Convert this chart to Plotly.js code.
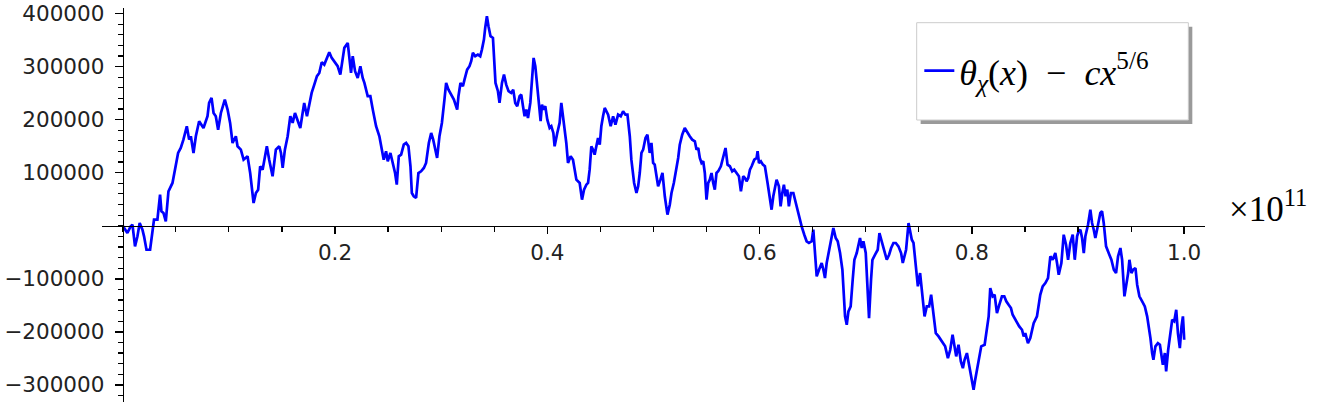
<!DOCTYPE html>
<html>
<head>
<meta charset="utf-8">
<script src="https://cdn.plot.ly/plotly-3.0.1.min.js"></script>
<style>
  html, body { margin: 0; padding: 0; background: #fff; }
  #chart { width: 1320px; height: 402px; }
</style>
</head>
<body>
<div id="chart"></div>
<script>
// x is given in units of 1e11 (the axis shows the x10^11 factor)
var xScaled = [
  0, 0.0044, 0.0075, 0.0092, 0.0116, 0.0139, 0.0160, 0.0186, 0.0201, 0.0224,
  0.0258, 0.0280, 0.0295, 0.0327, 0.0352, 0.0365, 0.0384, 0.0406, 0.0431, 0.0469,
  0.0500, 0.0522, 0.0547, 0.0572, 0.0604, 0.0626, 0.0642, 0.0667, 0.0689, 0.0720,
  0.0761, 0.0799, 0.0814, 0.0837, 0.0856, 0.0877, 0.0899, 0.0925, 0.0962, 0.0988,
  0.1012, 0.1035, 0.1066, 0.1082, 0.1113, 0.1139, 0.1176, 0.1201, 0.1233, 0.1255,
  0.1276, 0.1295, 0.1318, 0.1358, 0.1380, 0.1412, 0.1443, 0.1475, 0.1491, 0.1507,
  0.1528, 0.1554, 0.1579, 0.1601, 0.1623, 0.1648, 0.1673, 0.1695, 0.1710, 0.1736,
  0.1758, 0.1780, 0.1805, 0.1830, 0.1852, 0.1875, 0.1899, 0.1931, 0.1946, 0.1969,
  0.1994, 0.2025,
  0.2050, 0.2073, 0.2088, 0.2120, 0.2135, 0.2151, 0.2167, 0.2189, 0.2214, 0.2239,
  0.2261, 0.2277, 0.2308, 0.2333, 0.2356, 0.2387, 0.2418, 0.2441, 0.2459, 0.2481,
  0.2497, 0.2522, 0.2544, 0.2566, 0.2582, 0.2601, 0.2623, 0.2648, 0.2670, 0.2692,
  0.2711, 0.2724, 0.2742, 0.2764, 0.2786, 0.2811, 0.2837, 0.2858, 0.2884, 0.2906,
  0.2925, 0.2943, 0.2962, 0.2984, 0.3007, 0.3031, 0.3047, 0.3069, 0.3094, 0.3120,
  0.3151, 0.3163, 0.3182, 0.3205, 0.3220, 0.3245, 0.3267, 0.3283, 0.3299, 0.3321,
  0.3346, 0.3368, 0.3384, 0.3403, 0.3415, 0.3431, 0.3446, 0.3465, 0.3488, 0.3503,
  0.3512, 0.3535, 0.3550, 0.3573, 0.3592, 0.3613, 0.3635, 0.3660, 0.3679, 0.3698,
  0.3717, 0.3739, 0.3755, 0.3771, 0.3786, 0.3802, 0.3818, 0.3840, 0.3861, 0.3871,
  0.3887, 0.3906, 0.3927, 0.3937, 0.3950, 0.3965, 0.3981, 0.4000, 0.4022, 0.4038,
  0.4057, 0.4069, 0.4094, 0.4116, 0.4132,
  0.4158, 0.4179, 0.4195, 0.4220, 0.4242, 0.4258, 0.4274, 0.4305, 0.4327, 0.4346,
  0.4368, 0.4384, 0.4399, 0.4415, 0.4431, 0.4446, 0.4462, 0.4478, 0.4494, 0.4509,
  0.4525, 0.4541, 0.4573, 0.4597, 0.4620, 0.4642, 0.4667, 0.4692, 0.4714, 0.4736,
  0.4755, 0.4777, 0.4792, 0.4818, 0.4840, 0.4856, 0.4871, 0.4887, 0.4903, 0.4925,
  0.4943, 0.4965, 0.4981, 0.4997, 0.5012, 0.5028, 0.5044, 0.5066, 0.5085, 0.5107,
  0.5132, 0.5154, 0.5170, 0.5192, 0.5217, 0.5233, 0.5248, 0.5271, 0.5295, 0.5321,
  0.5342, 0.5365, 0.5390, 0.5406, 0.5422, 0.5437, 0.5453, 0.5469, 0.5484, 0.5500,
  0.5516, 0.5531, 0.5547, 0.5563, 0.5578, 0.5594, 0.5610, 0.5635, 0.5657, 0.5679,
  0.5698, 0.5720, 0.5742, 0.5761, 0.5783, 0.5805, 0.5824, 0.5846, 0.5862, 0.5877,
  0.5893, 0.5909, 0.5925, 0.5950, 0.5972, 0.5981, 0.5994, 0.6012, 0.6031, 0.6050,
  0.6075, 0.6097, 0.6113, 0.6129, 0.6144, 0.6160, 0.6182, 0.6198, 0.6214, 0.6229,
  0.6245, 0.6261, 0.6276, 0.6295, 0.6318, 0.6333, 0.6349, 0.6371,
  0.6396, 0.6421, 0.6443, 0.6465, 0.6491, 0.6506, 0.6522, 0.6538, 0.6560, 0.6585,
  0.6601, 0.6616, 0.6632, 0.6654, 0.6679, 0.6695, 0.6717, 0.6736, 0.6758, 0.6780,
  0.6805, 0.6821, 0.6837, 0.6858, 0.6877, 0.6893, 0.6915, 0.6931, 0.6946, 0.6962,
  0.6978, 0.7000, 0.7019, 0.7031, 0.7050, 0.7063, 0.7088, 0.7113, 0.7129, 0.7151,
  0.7176, 0.7198, 0.7220, 0.7239, 0.7261, 0.7283, 0.7308, 0.7333, 0.7349, 0.7365,
  0.7380, 0.7403, 0.7418, 0.7434, 0.7450, 0.7472, 0.7491, 0.7512, 0.7535, 0.7554,
  0.7575, 0.7597, 0.7616, 0.7638, 0.7660, 0.7686, 0.7717, 0.7748, 0.7774, 0.7796,
  0.7818, 0.7837, 0.7852, 0.7874, 0.7896, 0.7915, 0.7931, 0.7953, 0.7975, 0.7994,
  0.8016, 0.8031, 0.8050, 0.8069, 0.8088, 0.8120, 0.8142, 0.8158, 0.8173, 0.8195,
  0.8214, 0.8236, 0.8258, 0.8283, 0.8305, 0.8324, 0.8346, 0.8368, 0.8384, 0.8403,
  0.8425, 0.8446, 0.8472, 0.8488, 0.8503, 0.8528, 0.8550,
  0.8560, 0.8582, 0.8613, 0.8629, 0.8644, 0.8667, 0.8692, 0.8717, 0.8739, 0.8761,
  0.8786, 0.8802, 0.8818, 0.8843, 0.8865, 0.8887, 0.8906, 0.8927, 0.8950, 0.8969,
  0.8991, 0.9006, 0.9022, 0.9038, 0.9054, 0.9069, 0.9094, 0.9116, 0.9132, 0.9148,
  0.9163, 0.9179, 0.9195, 0.9210, 0.9226, 0.9242, 0.9264, 0.9283, 0.9295, 0.9314,
  0.9337, 0.9358, 0.9377, 0.9399, 0.9415, 0.9437, 0.9453, 0.9472, 0.9484, 0.9503,
  0.9519, 0.9541, 0.9557, 0.9578, 0.9604, 0.9629, 0.9651, 0.9667, 0.9682, 0.9698,
  0.9710, 0.9729, 0.9752, 0.9771, 0.9786, 0.9799, 0.9818, 0.9830, 0.9849, 0.9871,
  0.9887, 0.9906, 0.9925, 0.9941, 0.9959, 0.9975, 0.9988, 0.9997, 1.0
];

// theta_chi(x) - c x^(5/6)
var diffVals = [
  0, -13800, -1100, 1900, -38900, -20000, 5100, -7500, -20000, -45300,
  -45300, -13800, 11300, 11300, 58500, 27200, 24000, 8300, 64900, 80600,
  118300, 137200, 146600, 162300, 187500, 162300, 168700, 137200, 168700, 197000,
  184300, 206400, 231500, 241000, 212600, 206400, 181100, 212600, 237700, 218900,
  193800, 156000, 168700, 149800, 143400, 124500, 130900, 99400, 42800, 61700,
  67900, 112100, 105700, 149800, 124500, 93200, 143400, 149800, 137200, 108900,
  143400, 168700, 206400, 193800, 212600, 200000, 184300, 212600, 231500, 206400,
  231500, 250400, 266000, 281900, 288100, 308300, 303800, 319600, 327200, 316400,
  310200, 300800,
  284900, 313200, 335300, 344700, 316400, 288100, 319600, 291300, 278700, 300800,
  278700, 269200, 244200, 244200, 218900, 187500, 168700, 143400, 124500, 140400,
  121500, 137200, 118300, 99400, 77400, 130900, 134000, 152800, 156000, 149800,
  112100, 61700, 55500, 52300, 99400, 102600, 108900, 118300, 156000, 174900,
  162300, 143400, 127700, 168700, 193800, 237700, 269200, 256600, 247200, 237700,
  218900, 244200, 269200, 263000, 275500, 294300, 300800, 310200, 325900, 319600,
  322600, 319600, 332100, 350900, 373000, 395100, 376200, 357400, 354200, 307000,
  269200, 253600, 231500, 269200, 284900, 266000, 253600, 250400, 256600, 231500,
  225300, 244200, 247200, 225300, 206400, 218900, 203200, 231500, 294300, 316400,
  300800, 256600, 206400, 197000, 228300, 218900, 225300, 200000, 184300, 187500,
  174900, 149800, 174900, 193800, 231500,
  193800, 156000, 118300, 130900, 124500, 105700, 86800, 80600, 49100, 67900,
  77400, 80600, 105700, 149800, 143400, 134000, 152800, 165500, 152800, 187500,
  206400, 222100, 209400, 187500, 206400, 190600, 209400, 206400, 215800, 209400,
  209400, 168700, 124500, 80600, 61700, 74300, 99400, 137200, 143400, 165500,
  171700, 137200, 156000, 118300, 115100, 93200, 74300, 86800, 99400, 55500,
  20800, 39600, 61700, 80600, 105700, 127700, 152800, 171700, 184300, 174900,
  168700, 162300, 159200, 143400, 146600, 127700, 118300, 121500, 99400, 49100,
  80600, 86800, 99400, 80600, 67900, 99400, 102600, 112100, 127700, 146600,
  115100, 112100, 102600, 105700, 99400, 93200, 64900, 93200, 90000, 83800,
  90000, 105700, 112100, 124500, 127700, 140400, 118300, 121500, 115100, 112100,
  80600, 49100, 30200, 55500, 74300, 86800, 74300, 36600, 61700, 77400,
  55500, 67900, 36600, 61700, 61700, 49100, 36600, 17700,
  -1100, -17000, -29400, -32600, -29400, -7500, -51500, -95500, -83000, -70400,
  -83000, -98700, -70400, -45300, -20000, -4300, -23200, -29400, -51500, -83000,
  -170900, -186800, -161500, -152100, -101900, -64200, -51500, -32600, -23200, -42100,
  -29400, -51500, -133200, -174200, -101900, -64200, -54700, -45300, -13800, -29400,
  -51500, -64200, -54700, -42100, -32600, -32600, -38900, -51500, -70400, -54700,
  -45300, 5100, -13800, -26400, -32600, -76600, -114300, -89200, -133200, -170900,
  -152100, -152100, -130200, -170900, -202500, -208700, -218100, -227500, -249600, -234000,
  -205700, -230800, -246400, -224500, -255900, -268500, -252800, -240200, -265300, -281100,
  -309400, -290600, -271700, -252800, -227500, -224500, -196200, -170900, -117500, -133200,
  -130200, -164700, -149100, -133200, -133200, -142600, -149100, -155300, -167900, -174200,
  -183600, -189800, -196200, -208700, -202500, -221300, -211900,
  -202500, -183600, -170900, -145800, -130200, -114300, -108100, -98700, -57700, -64200,
  -51500, -70400, -92500, -70400, -17000, -35800, -64200, -32600, -17000, -64200,
  -20000, -10600, -7500, -23200, -51500, -20000, 1900, 30200, 5100, -7500,
  -23200, -7500, 11300, 24000, 27200, 5100, -38900, -51500, -54700, -64200,
  -83000, -89200, -57700, -42100, -64200, -133200, -114300, -89200, -64200, -89200,
  -83000, -79800, -111300, -133200, -142600, -152100, -170900, -189800, -211900, -240200,
  -252800, -227500, -221300, -224500, -246400, -262300, -240200, -274700, -234000, -202500,
  -177400, -180400, -158500, -202500, -230800, -189800, -170900, -202500, -215100
];

var xTickVals = [0.2, 0.4, 0.6, 0.8, 1.0];
var yTickVals = [-300000, -200000, -100000, 100000, 200000, 300000, 400000];

var xRange = [-0.0195, 1.0196];
var yRange = [-332400, 410500];

// put each axis through the origin
var xAxisPos = (0 - yRange[0]) / (yRange[1] - yRange[0]);
var yAxisPos = (0 - xRange[0]) / (xRange[1] - xRange[0]);

var tickFont = {family: 'DejaVu Sans, sans-serif', size: 21.5, color: '#222'};

var data = [{
    x: xScaled,
    y: diffVals,
    type: 'scatter',
    mode: 'lines',
    name: '<i>θ</i><sub><i>χ</i></sub>(<i>x</i>)  −  <i>cx</i><sup>5/6</sup>',
    line: {color: '#0000ff', width: 2.7},
    showlegend: true
}];

var layout = {
    width: 1320,
    height: 402,
    margin: {l: 102, r: 115, t: 8, b: 0},
    paper_bgcolor: '#fff',
    plot_bgcolor: '#fff',
    showlegend: true,
    legend: {
        x: 0.741, y: 0.841, xanchor: 'left', yanchor: 'middle',
        bgcolor: 'rgba(0,0,0,0)', borderwidth: 0,
        font: {family: 'Liberation Serif, serif', size: 36, color: '#000'}
    },
    xaxis: {
        range: xRange,
        anchor: 'free',
        position: xAxisPos,
        showline: true, linecolor: '#000', linewidth: 1.5,
        showgrid: false, zeroline: false,
        ticks: 'outside', ticklen: 7, tickwidth: 1.5, tickcolor: '#000',
        tickvals: xTickVals, tickformat: '.1f',
        tickfont: tickFont, ticklabeloverflow: 'allow',
        minor: {dtick: 0.05, tick0: 0, ticks: 'outside', ticklen: 5, tickwidth: 1.2, tickcolor: '#000', showgrid: false}
    },
    yaxis: {
        range: yRange,
        anchor: 'free',
        position: yAxisPos,
        showline: true, linecolor: '#000', linewidth: 1.5,
        showgrid: false, zeroline: false,
        ticks: 'outside', ticklen: 8, tickwidth: 1.5, tickcolor: '#000',
        tickvals: yTickVals, tickformat: 'd',
        tickfont: tickFont, ticklabeloverflow: 'allow', ticklabelstandoff: 6,
        minor: {dtick: 20000, tick0: 0, ticks: 'outside', ticklen: 5, tickwidth: 1.2, tickcolor: '#000', showgrid: false}
    },
    shapes: [
        // legend shadow and frame
        {type: 'rect', xref: 'paper', yref: 'paper', x0: 0.7422, x1: 0.9885, y0: 0.7056, y1: 0.9525,
         fillcolor: '#9a9a9a', line: {width: 0}, layer: 'above'},
        {type: 'rect', xref: 'paper', yref: 'paper', x0: 0.7386, x1: 0.9849, y0: 0.7157, y1: 0.9627,
         fillcolor: '#fff', line: {color: '#cccccc', width: 1}, layer: 'above'}
    ],
    annotations: [{
        xref: 'paper', yref: 'paper', x: 1.020, y: 0.496,
        xanchor: 'left', yanchor: 'middle', showarrow: false,
        text: '×10<sup>11</sup>',
        font: {family: 'Liberation Serif, serif', size: 35, color: '#000'}
    }]
};

Plotly.newPlot('chart', data, layout, {displayModeBar: false, staticPlot: true});
</script>
</body>
</html>
